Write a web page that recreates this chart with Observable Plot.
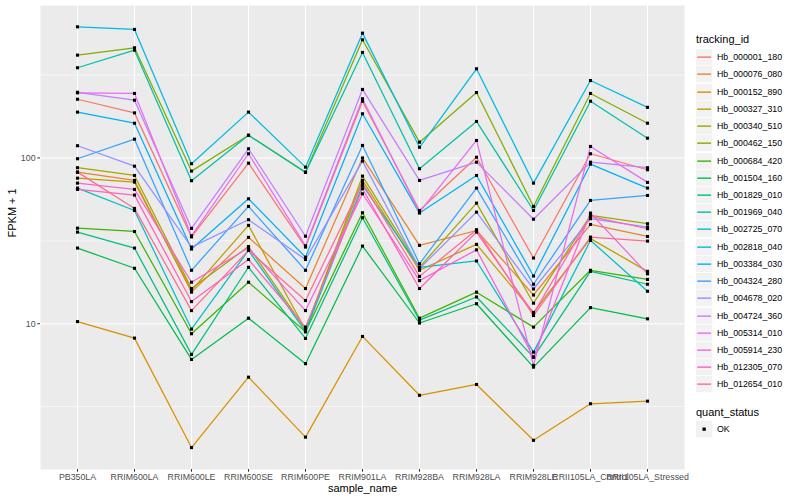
<!DOCTYPE html>
<html><head><meta charset="utf-8">
<script src="https://cdn.jsdelivr.net/npm/d3@7"></script>
<script src="https://cdn.jsdelivr.net/npm/@observablehq/plot@0.6"></script>
<style>
body{margin:0;background:#fff;font-family:"Liberation Sans",Arial,sans-serif;}
#wrap{position:relative;width:800px;height:500px;}
.lg-title{position:absolute;font-size:11px;color:#000;white-space:nowrap;line-height:16px;}
.lg-row{position:absolute;left:696px;height:17.2px;width:100px;}
.lg-row svg{position:absolute;left:0;top:0;}
.lg-text{position:absolute;left:21px;top:0;font-size:8.8px;line-height:16.3px;color:#000;white-space:nowrap;}
</style></head><body><div id="wrap"></div>
<script>
const samples = ["PB350LA","RRIM600LA","RRIM600LE","RRIM600SE","RRIM600PE","RRIM901LA","RRIM928BA","RRIM928LA","RRIM928LE","RRII105LA_Control","RRII105LA_Stressed"];
const trackingIds = ["Hb_000001_180","Hb_000076_080","Hb_000152_890","Hb_000327_310","Hb_000340_510","Hb_000462_150","Hb_000684_420","Hb_001504_160","Hb_001829_010","Hb_001969_040","Hb_002725_070","Hb_002818_040","Hb_003384_030","Hb_004324_280","Hb_004678_020","Hb_004724_360","Hb_005314_010","Hb_005914_230","Hb_012305_070","Hb_012654_010"];
const hueColors = ["#F8766D","#EA8331","#D89000","#C09B00","#A3A500","#7CAE00","#39B600","#00BB4E","#00BF7D","#00C1A3","#00BFC4","#00BAE0","#00B0F6","#35A2FF","#9590FF","#C77CFF","#E76BF3","#FA62DB","#FF62BC","#FF6C91"];
const quantStatus = ["OK"];
const yTicks = [10, 100];
const yMinorGrid = [3.1623, 31.623, 316.23];

// FPKM + 1, one value per sample (order of `samples`)
const hb_000001_180 = [226, 187, 33.4, 93, 29, 220, 48.2, 101, 24.9, 106, 84.9];
const hb_000076_080 = [82.1, 73.2, 15.5, 33.2, 16.3, 100, 29.7, 36.5, 14.9, 39.7, 33.6];
const hb_000152_890 = [10.3, 8.19, 1.79, 4.76, 2.07, 8.38, 3.7, 4.3, 1.98, 3.29, 3.41];
const hb_000327_310 = [75.5, 71.5, 15.9, 39.2, 9.2, 73.2, 21, 30.1, 11.7, 32.6, 20.7];
const hb_000340_510 = [87.3, 78.4, 16.3, 29.2, 9.24, 77.7, 21.9, 53.4, 13.3, 45, 40.1];
const hb_000462_150 = [417, 462, 83.3, 137, 82.1, 516, 124.5, 248, 51, 245, 162];
const hb_000684_420 = [37.7, 36, 8.7, 17.8, 8.95, 46.7, 10.8, 15.5, 9.54, 21, 18.5];
const hb_001504_160 = [28.6, 21.6, 6.09, 10.8, 5.74, 29.4, 10.1, 13.2, 5.47, 12.5, 10.7];
const hb_001829_010 = [35.7, 28.6, 6.53, 21.9, 8.15, 43.6, 10.5, 14.5, 6.29, 20.7, 17.3];
const hb_001969_040 = [350, 447, 72.9, 137, 81.8, 433, 86.1, 166, 48.2, 220, 131.6];
const hb_002725_070 = [65.8, 48.2, 9.28, 27.7, 8.95, 68.2, 21.9, 23.9, 6.74, 31.8, 15.7];
const hb_002818_040 = [618, 596, 92.3, 189, 88, 566, 116, 345, 70.5, 293, 202];
const hb_003384_030 = [189, 162, 28.2, 56.7, 25.2, 184.7, 46.5, 78.4, 19.4, 91.7, 65.8];
const hb_004324_280 = [98.9, 129.8, 21, 51, 21, 119, 23, 65.8, 17.3, 55.4, 59.4];
const hb_004678_020 = [118.5, 89.2, 29, 42.4, 24.4, 95.7, 21.5, 47.1, 16.2, 43, 38.3];
const hb_004724_360 = [249, 223, 37.6, 113.6, 33.7, 259, 73.2, 94.3, 42.7, 94.3, 87.3];
const hb_005314_010 = [247, 245, 33.9, 106, 29.5, 227.5, 47.1, 127.5, 5.6, 117.3, 71.2];
const hb_005914_230 = [70.5, 64.6, 17.8, 28.7, 12, 60.8, 18.2, 27.9, 6.29, 46.5, 20];
const hb_012305_070 = [64.6, 59.7, 13.6, 24.4, 9.54, 65.2, 16.3, 35.7, 11.5, 44.4, 37.4];
const hb_012654_010 = [82.1, 49.6, 12, 27.7, 13.8, 70.5, 19.3, 36.9, 11.2, 33.3, 31.5];

const seriesValues = [hb_000001_180, hb_000076_080, hb_000152_890, hb_000327_310, hb_000340_510, hb_000462_150, hb_000684_420, hb_001504_160, hb_001829_010, hb_001969_040, hb_002725_070, hb_002818_040, hb_003384_030, hb_004324_280, hb_004678_020, hb_004724_360, hb_005314_010, hb_005914_230, hb_012305_070, hb_012654_010];

const rows = trackingIds.flatMap((id, i) => samples.map((s, j) => ({tracking_id: id, sample_name: s, fpkm1: seriesValues[i][j], quant_status: "OK"})));

const font = "'Liberation Sans', Arial, sans-serif";
const chart = Plot.plot({
  width: 800, height: 500,
  marginLeft: 40, marginRight: 116, marginTop: 5, marginBottom: 31,
  style: {fontFamily: font, fontSize: "8.8px", background: "white", overflow: "visible"},
  x: {type: "point", domain: samples, padding: 0.6},
  y: {type: "log", domain: [1.32, 831]},
  color: {domain: trackingIds, range: hueColors},
  marks: [
    Plot.frame({fill: "#EBEBEB", stroke: null}),
    Plot.gridY(yMinorGrid, {stroke: "white", strokeOpacity: 1, strokeWidth: 0.55}),
    Plot.gridY(yTicks, {stroke: "white", strokeOpacity: 1, strokeWidth: 1.07}),
    Plot.gridX(samples, {stroke: "white", strokeOpacity: 1, strokeWidth: 1.07}),
    Plot.line(rows, {x: "sample_name", y: "fpkm1", z: "tracking_id", stroke: "tracking_id", strokeWidth: 1.25}),
    Plot.dot(rows, {x: "sample_name", y: "fpkm1", symbol: "square", r: 1.75, fill: "black", stroke: null}),
    Plot.axisX(samples, {tickSize: 2.75, tickPadding: 1.5, stroke: "#333333", fill: "#4D4D4D", label: null}),
    Plot.axisY(yTicks, {tickSize: 2.75, tickPadding: 2.2, stroke: "#333333", fill: "#4D4D4D", tickFormat: d => String(d), label: null}),
    Plot.text(["sample_name"], {frameAnchor: "bottom", dy: 22.5, fontSize: 11, fill: "black"}),
    Plot.text(["FPKM + 1"], {frameAnchor: "left", dx: -28, rotate: -90, fontSize: 11, fill: "black"})
  ]
});
const wrap = document.getElementById("wrap");
wrap.appendChild(chart);

// legend (HTML, right side)
function addTitle(text, top) {
  const t = document.createElement("div");
  t.className = "lg-title"; t.textContent = text;
  t.style.left = "696px"; t.style.top = top + "px";
  wrap.appendChild(t);
}
addTitle("tracking_id", 31);
trackingIds.forEach((id, i) => {
  const r = document.createElement("div");
  r.className = "lg-row"; r.style.top = (49.2 + i * 17.22) + "px";
  r.innerHTML = `<svg width="17" height="17"><rect x="0" y="0" width="16.3" height="16.3" fill="#F2F2F2"/><line x1="1.2" x2="15.1" y1="8.15" y2="8.15" stroke="${hueColors[i]}" stroke-width="1.4"/></svg><div class="lg-text">${id}</div>`;
  wrap.appendChild(r);
});
addTitle("quant_status", 403.5);
quantStatus.forEach((q, i) => {
  const r = document.createElement("div");
  r.className = "lg-row"; r.style.top = (421 + i * 17.22) + "px";
  r.innerHTML = `<svg width="17" height="17"><rect x="0" y="0" width="16.3" height="16.3" fill="#F2F2F2"/><rect x="6.5" y="6.5" width="3.3" height="3.3" fill="#000"/></svg><div class="lg-text">${q}</div>`;
  wrap.appendChild(r);
});
</script></body></html>
